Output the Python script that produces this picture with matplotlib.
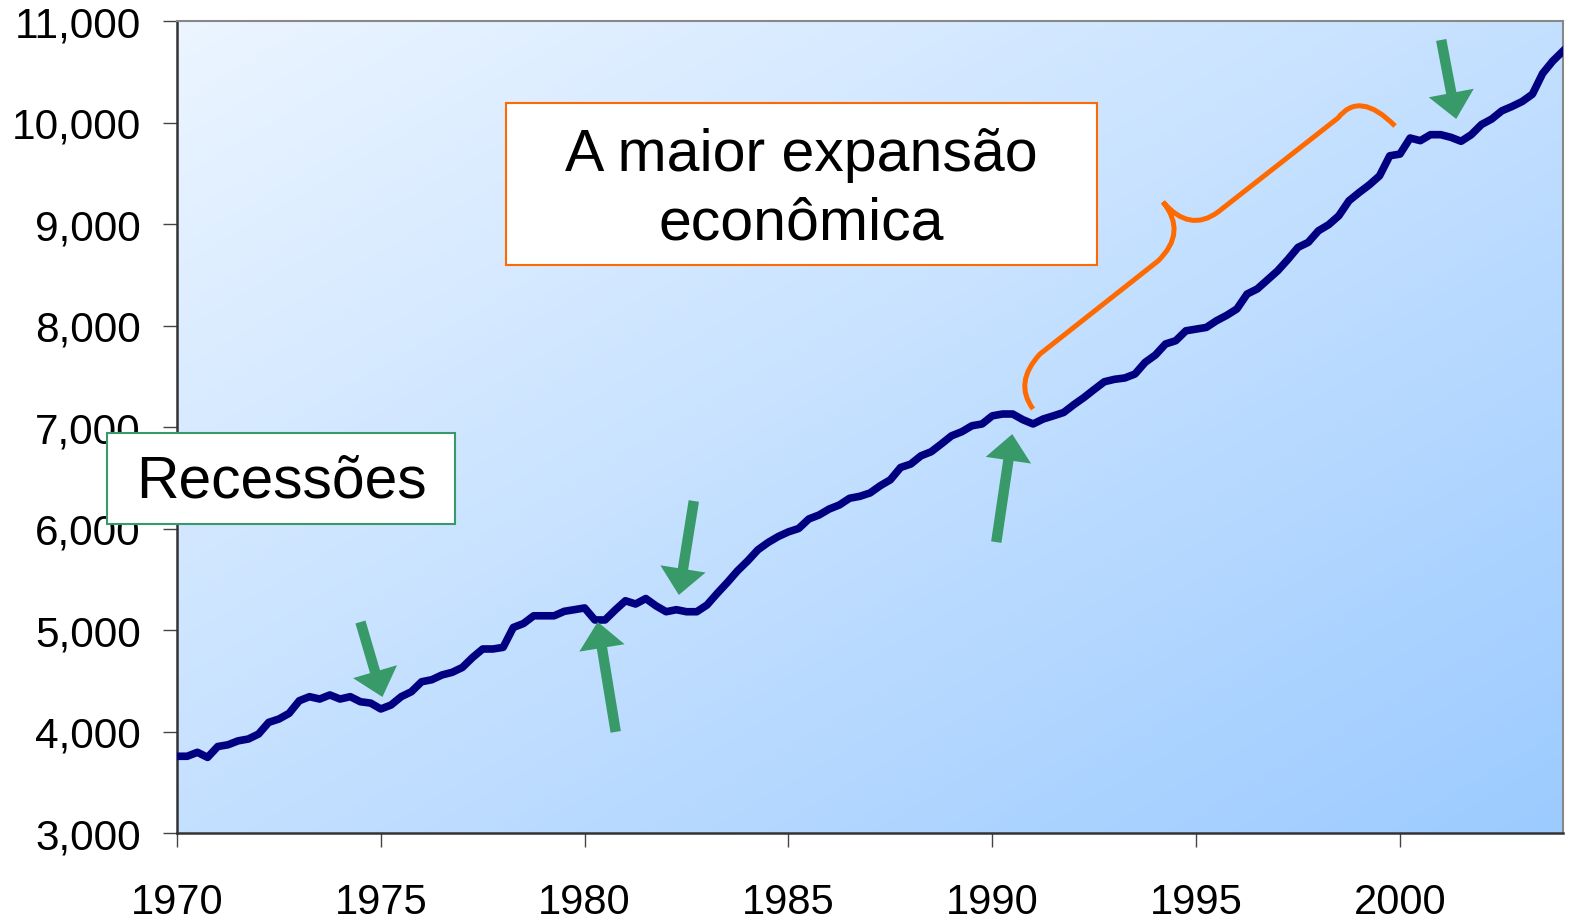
"""US real GDP 1970-2004 (quarterly) with recession arrows and the long 1990s expansion brace."""
import matplotlib
matplotlib.use("Agg")
import matplotlib.pyplot as plt
import numpy as np
from matplotlib.patches import PathPatch, Rectangle
from matplotlib.path import Path
from matplotlib.ticker import StrMethodFormatter

plt.rcParams["font.family"] = ["Liberation Sans", "DejaVu Sans"]

START_YEAR = 1970
GDP = [
    3756, 3756, 3795, 3745, 3852, 3869, 3908, 3926, 3975, 4090,
    4123, 4179, 4303, 4343, 4320, 4360, 4320, 4343, 4293, 4280,
    4222, 4261, 4343, 4392, 4490, 4510, 4557, 4583, 4631, 4729,
    4813, 4813, 4829, 5025, 5064, 5140, 5140, 5140, 5184, 5200,
    5217, 5099, 5099, 5197, 5288, 5256, 5310, 5238, 5180, 5200,
    5180, 5180, 5246, 5360, 5468, 5583, 5681, 5790, 5862, 5921,
    5967, 6000, 6094, 6133, 6192, 6232, 6298, 6317, 6350, 6421,
    6480, 6601, 6635, 6716, 6756, 6833, 6913, 6953, 7012, 7030,
    7110, 7128, 7128, 7072, 7030, 7079, 7110, 7143, 7220, 7291,
    7370, 7446, 7470, 7483, 7522, 7637, 7709, 7818, 7850, 7948,
    7965, 7981, 8047, 8100, 8163, 8310, 8360, 8450, 8539, 8650,
    8770, 8819, 8933, 8993, 9081, 9229, 9310, 9386, 9475, 9672,
    9689, 9847, 9821, 9880, 9880, 9854, 9815, 9880, 9980, 10034,
    10115, 10158, 10207, 10279, 10483, 10606, 10704,
]
YEARS = START_YEAR + np.arange(len(GDP)) / 4.0

# recession arrows: tip (year, value) and tail offset in pixels
REC_TIPS = [(1975.04, 4340), (1980.32, 5080), (1982.31, 5345), (1990.49, 6930), (2001.38, 10035)]
REC_TAILS = [(-22, 75), (18, -110), (15, 94), (-16, -108), (-15, 79)]

X_TICKS = [1970, 1975, 1980, 1985, 1990, 1995, 2000]
Y_TICKS = list(range(3000, 11001, 1000))

W, H = 1570, 920
GREEN = "#389a68"
ORANGE = "#ff6a00"


def fpx(x, y):
    # pixel (top-left origin) -> figure fraction
    return x / W, 1 - y / H


fig = plt.figure(figsize=(W / 100, H / 100), dpi=100)
ax = fig.add_axes([177 / W, 1 - 834 / H, (1563 - 177) / W, (834 - 22) / H])

# diagonal background gradient, light top-left -> darker bottom-right
n = 256
gx, gy = np.meshgrid(np.linspace(0, 1, n), np.linspace(0, 1, n))
t = (gx + gy) / 2
c0 = np.array([236, 245, 255]) / 255
c1 = np.array([156, 203, 255]) / 255
img = c0[None, None, :] * (1 - t[..., None]) + c1[None, None, :] * t[..., None]
ax.imshow(img, extent=[1970, 2004, 3000, 11000], origin="upper", aspect="auto",
          zorder=0, interpolation="bilinear")

ax.plot(YEARS, GDP, color="#000080", lw=5.5, solid_joinstyle="round", zorder=3)

ax.set_xlim(1970, 2004)
ax.set_ylim(3000, 11000)
ax.set_xticks(X_TICKS)
ax.set_yticks(Y_TICKS)
ax.yaxis.set_major_formatter(StrMethodFormatter("{x:,.0f}"))
ax.tick_params(axis="both", direction="out", length=10, width=1, color="#444444")
ax.tick_params(axis="y", pad=16, labelsize=30.5)
ax.tick_params(axis="x", pad=25, labelsize=30)
for s in ("left", "bottom"):
    ax.spines[s].set_color("#333333")
    ax.spines[s].set_linewidth(1.8)
for s in ("top", "right"):
    ax.spines[s].set_color("#888888")
    ax.spines[s].set_linewidth(1.5)

for (tx, ty), (dx, dy) in zip(REC_TIPS, REC_TAILS):
    ax.annotate("", xy=(tx, ty), xytext=(dx, dy), textcoords="offset pixels",
                arrowprops=dict(arrowstyle="simple,head_length=1.9,head_width=3.3,tail_width=0.75",
                                mutation_scale=10, color=GREEN, shrinkA=0, shrinkB=0, lw=0),
                zorder=4)

# orange brace over the 1991-2000 expansion
verts = [(1033, 410), (1013.5, 383.5), (1040, 355), (1158, 262), (1187.5, 233.5), (1163, 203),
         (1189.5, 234), (1218, 213), (1338, 119), (1359.5, 91), (1395, 127)]
codes = [Path.MOVETO, Path.CURVE3, Path.CURVE3, Path.LINETO, Path.CURVE3, Path.CURVE3,
         Path.CURVE3, Path.CURVE3, Path.LINETO, Path.CURVE3, Path.CURVE3]
brace = Path([fpx(x, y) for x, y in verts], codes)
fig.add_artist(PathPatch(brace, fill=False, edgecolor=ORANGE, lw=3.6, capstyle="butt",
                         transform=fig.transFigure, zorder=5))

# text boxes
x0, y0 = fpx(506, 266)
x1, y1 = fpx(1097, 104)
fig.add_artist(Rectangle((x0, y0), x1 - x0, y1 - y0, transform=fig.transFigure,
                         facecolor="white", edgecolor=ORANGE, lw=1.5, zorder=5))
fig.text(*fpx(801.5, 190), "A maior expansão\neconômica", ha="center", va="center",
         fontsize=42.5, linespacing=1.32, zorder=6)

x0, y0 = fpx(107, 525)
x1, y1 = fpx(455, 434)
fig.add_artist(Rectangle((x0, y0), x1 - x0, y1 - y0, transform=fig.transFigure,
                         facecolor="white", edgecolor=GREEN, lw=1.5, zorder=5))
fig.text(*fpx(281, 482), "Recessões", ha="center", va="center", fontsize=42.3, zorder=6)

fig.savefig("out.png", dpi=100)
